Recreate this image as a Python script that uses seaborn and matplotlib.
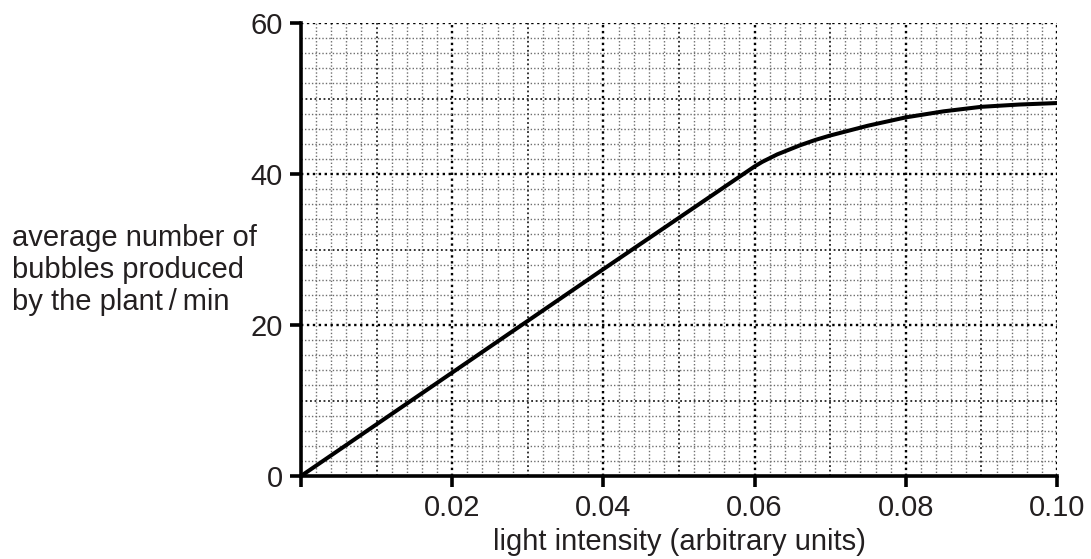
import numpy as np
import pandas as pd
import matplotlib
matplotlib.use("Agg")
import matplotlib.pyplot as plt
import seaborn as sns

# data
light_intensity = [0.0, 0.02, 0.04, 0.06, 0.061, 0.062, 0.063, 0.064, 0.066, 0.068,
                   0.07, 0.075, 0.08, 0.085, 0.09, 0.095, 0.10]
bubbles_per_min = [0.0, 13.7, 27.4, 41.0, 41.6, 42.1, 42.6, 43.0, 43.8, 44.5,
                   45.1, 46.4, 47.5, 48.3, 48.9, 49.2, 49.4]
x_tick_values = [0.0, 0.02, 0.04, 0.06, 0.08, 0.10]
x_tick_labels = ["", "0.02", "0.04", "0.06", "0.08", "0.10"]
y_tick_values = [0, 20, 40, 60]
y_tick_labels = ["0", "20", "40", "60"]

sns.set_style("white")
plt.rcParams["font.family"] = ["Liberation Sans", "DejaVu Sans"]

fig = plt.figure(figsize=(10.91, 5.59), dpi=100)
ax = fig.add_axes([301/1091, 1 - 476/559, (1057-301)/1091, (476-23)/559])

df = pd.DataFrame({"x": light_intensity, "y": bubbles_per_min})

ax.set_xlim(0, 0.10)
ax.set_ylim(0, 60)

# fine grid
for xv in np.arange(0.002, 0.1001, 0.002):
    k = int(round(xv / 0.002))
    if k % 10 == 0:
        ax.axvline(xv, color="black", lw=1.7, ls=(0, (1, 1.5)), zorder=1)
    elif k % 5 == 0:
        ax.axvline(xv, color="#222222", lw=1.3, ls=(0, (1, 1.5)), zorder=1)
    else:
        ax.axvline(xv, color="#6e6e6e", lw=1.0, ls=(0, (1, 1.5)), zorder=1)
for yv in np.arange(2, 60.01, 2):
    k = int(round(yv / 2))
    if k % 10 == 0:
        ax.axhline(yv, color="black", lw=1.7, ls=(0, (1, 1.5)), zorder=1)
    elif k % 5 == 0:
        ax.axhline(yv, color="#222222", lw=1.3, ls=(0, (1, 1.5)), zorder=1)
    else:
        ax.axhline(yv, color="#6e6e6e", lw=1.0, ls=(0, (1, 1.5)), zorder=1)

sns.lineplot(data=df, x="x", y="y", ax=ax, color="black", lw=2.9, zorder=3)

for s in ["top", "right"]:
    ax.spines[s].set_visible(False)
for s in ["left", "bottom"]:
    ax.spines[s].set_visible(True)
    ax.spines[s].set_color("black")
    ax.spines[s].set_linewidth(2.6)
    ax.spines[s].set_zorder(4)

ax.set_xticks(x_tick_values)
ax.set_xticklabels(x_tick_labels)
ax.set_yticks(y_tick_values)
ax.set_yticklabels(y_tick_labels)
ax.tick_params(axis="both", which="major", direction="out", length=8, width=2.6,
               color="black", labelsize=21, labelcolor="#231f20", pad=5,
               bottom=True, left=True)
ax.grid(False)
ax.set_xlabel("")
ax.set_ylabel("")

fig.text((301 + 1057) / 2 / 1091, 1 - 542/559, "light intensity (arbitrary units)",
         ha="center", va="center", fontsize=21, color="#231f20")
fig.text(12/1091, 1 - 270/559, "average number of\nbubbles produced\nby the plant\u2009/\u2009min",
         ha="left", va="center", fontsize=21, color="#231f20", linespacing=1.18)

fig.savefig("out.png", dpi=100)
